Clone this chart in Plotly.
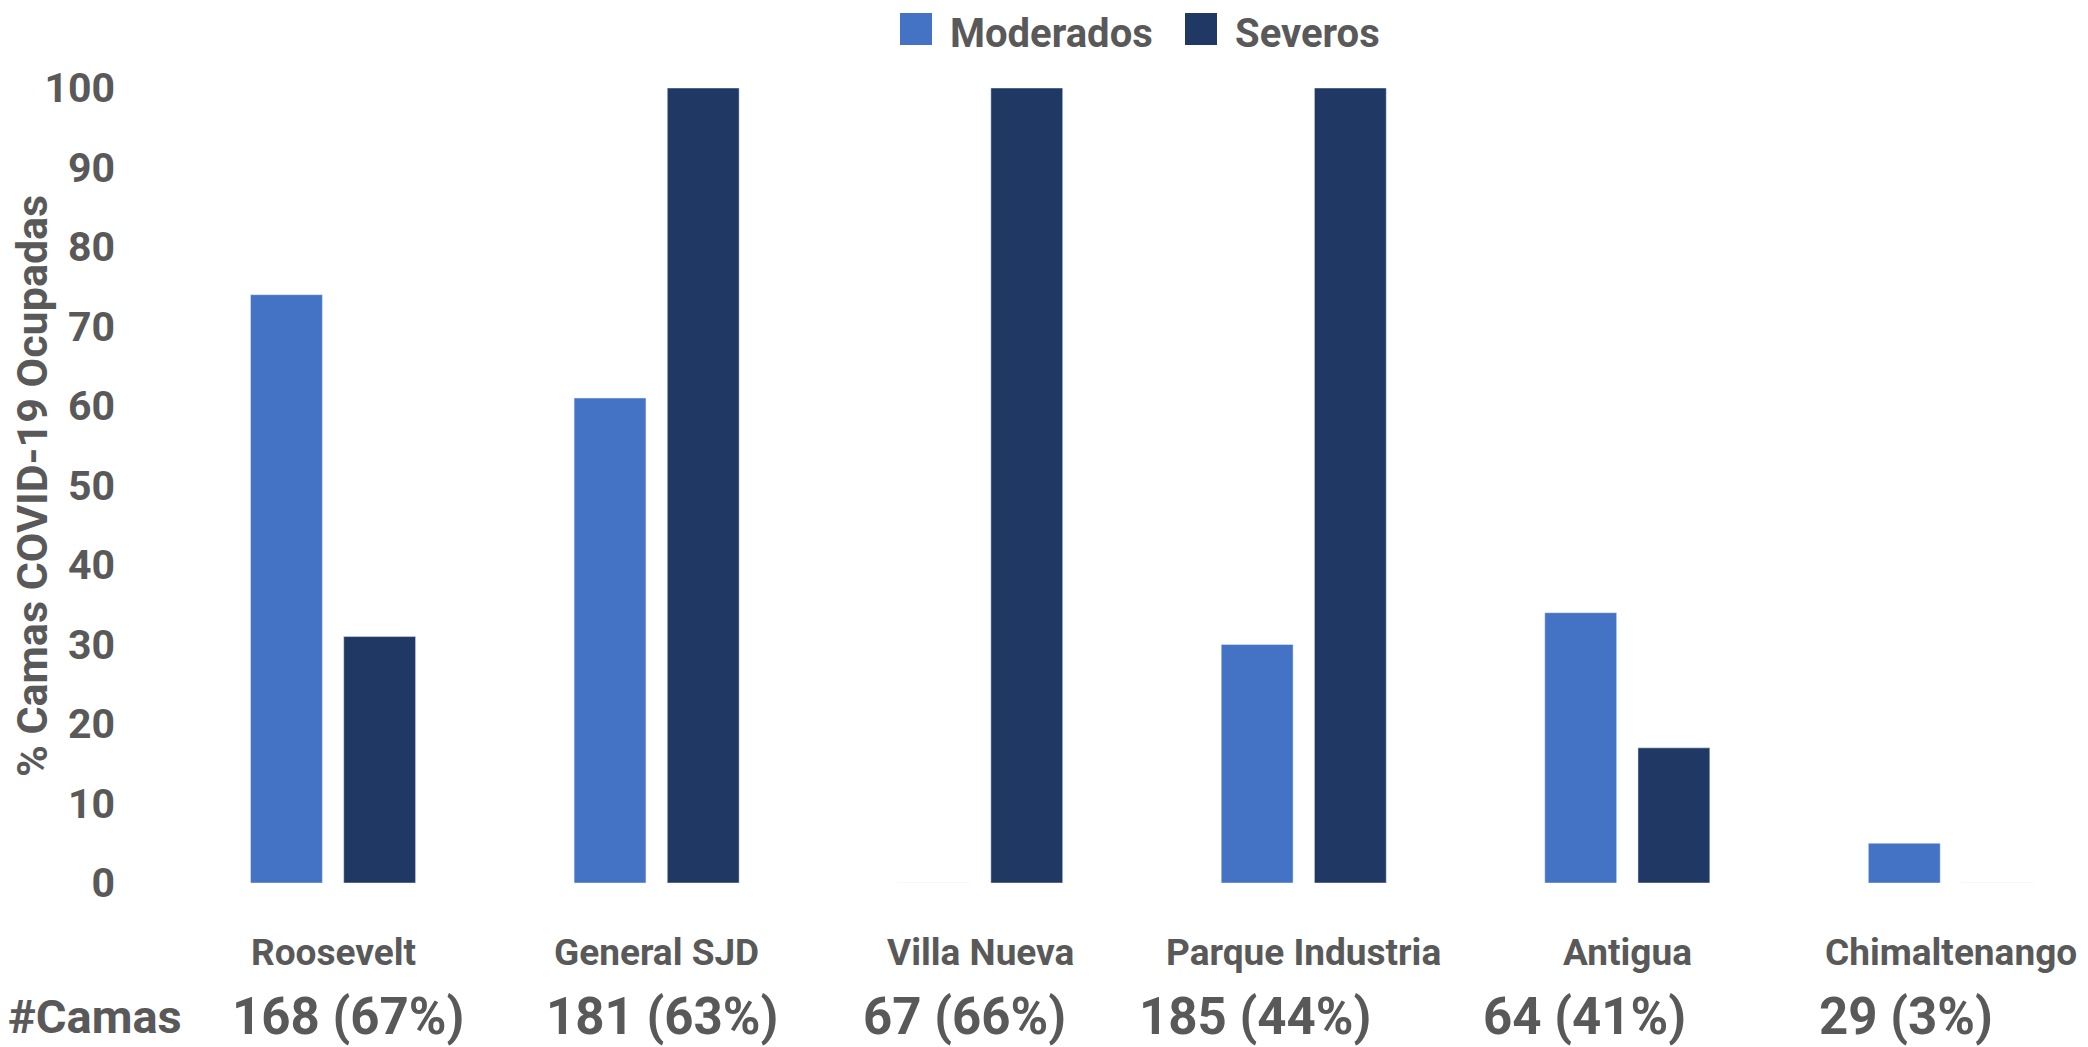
import plotly.graph_objects as go

categories = ["Roosevelt", "General SJD", "Villa Nueva", "Parque Industria", "Antigua", "Chimaltenango"]
moderados = [74, 61, 0, 30, 34, 5]
severos = [31, 100, 100, 100, 17, 0]
camas_labels = ["168 (67%)", "181 (63%)", "67 (66%)", "185 (44%)", "64 (41%)", "29 (3%)"]
y_ticks = [0, 10, 20, 30, 40, 50, 60, 70, 80, 90, 100]

OFF = 8  # page body margin
W, H = 2088 - OFF, 1047 - OFF
L, R, T, B = 125, 2068, 88, 883  # plot area in screen pixels
FONT = "Roboto, Liberation Sans, sans-serif"
TXT = "#595959"
C_MOD = "#4472C4"
C_SEV = "#203864"


def px_x(p):
    return (p - L) / (R - L)


def px_y(p):
    return (B - p) / (B - T)


fig = go.Figure()
fig.add_trace(go.Bar(name="Moderados", x=categories, y=moderados, marker_color=C_MOD,
                     showlegend=False))
fig.add_trace(go.Bar(name="Severos", x=categories, y=severos, marker_color=C_SEV,
                     showlegend=False))

annotations = []
for c in categories:
    annotations.append(dict(x=c, xref="x", y=px_y(952), yref="paper", text=c, showarrow=False,
                            xanchor="center", yanchor="middle",
                            font=dict(family=FONT, size=37, color=TXT, weight="bold")))
shifts = [15, 5, -16, -49, -43, -45]
for c, t, s in zip(categories, camas_labels, shifts):
    annotations.append(dict(x=c, xref="x", y=px_y(1016), yref="paper", text=t, showarrow=False,
                            xanchor="center", yanchor="middle", xshift=s,
                            font=dict(family=FONT, size=51, color=TXT, weight="bold")))
annotations.append(dict(x=px_x(95), xref="paper", y=px_y(1016), yref="paper", text="#Camas",
                        showarrow=False, xanchor="center", yanchor="middle",
                        font=dict(family=FONT, size=47, color=TXT, weight="bold")))
annotations.append(dict(x=px_x(32), xref="paper", y=px_y(486), yref="paper",
                        text="% Camas COVID-19 Ocupadas", textangle=-90, showarrow=False,
                        xanchor="center", yanchor="middle",
                        font=dict(family=FONT, size=43, color=TXT, weight="bold")))

shapes = []
legend_items = [("Moderados", C_MOD, 900, 948), ("Severos", C_SEV, 1185, 1233)]
for name, col, sx, tx in legend_items:
    shapes.append(dict(type="rect", xref="paper", yref="paper",
                       x0=px_x(sx), x1=px_x(sx + 32), y0=px_y(45), y1=px_y(13),
                       fillcolor=col, line=dict(width=0)))
    annotations.append(dict(x=px_x(tx), xref="paper", y=px_y(OFF), yref="paper", text=name,
                            showarrow=False, xanchor="left", yanchor="top",
                            font=dict(family=FONT, size=40, color=TXT, weight="bold")))

fig.update_layout(
    width=W, height=H,
    margin=dict(l=L - OFF, r=W + OFF - R, t=T - OFF, b=H + OFF - B, pad=0),
    plot_bgcolor="white", paper_bgcolor="white",
    barmode="group", bargap=0.424, bargroupgap=0.229,
    annotations=annotations, shapes=shapes,
    font=dict(family=FONT, color=TXT),
)
fig.update_xaxes(range=[-0.643, 5.362], showticklabels=False, showgrid=False,
                 zeroline=False, showline=False, ticks="", automargin=False)
fig.update_yaxes(range=[0, 100], tickvals=y_ticks, showgrid=False, zeroline=False,
                 showline=False, ticks="", automargin=False, ticklabelstandoff=9,
                 tickfont=dict(family=FONT, size=41, color=TXT, weight="bold"))

fig.write_html("out.html")
